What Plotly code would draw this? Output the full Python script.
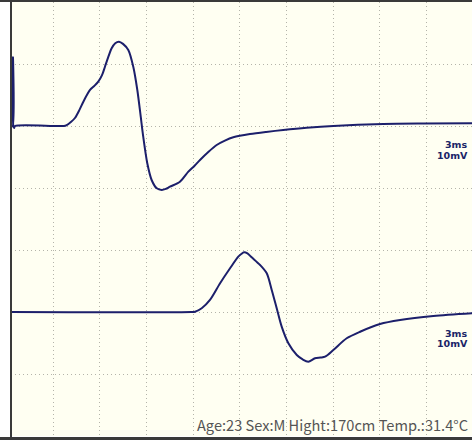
import plotly.graph_objects as go

# Time axis in ms, amplitude in mV (relative to each trace's own baseline)
upper_t = [0.0, 0.10, 0.13, 0.15, 0.20, 0.26, 3.40, 3.58, 3.85, 4.11, 4.40, 4.65, 5.08, 5.35,
           5.61, 5.85, 6.04, 6.25, 6.47, 6.70, 6.94, 7.20, 7.54, 7.86, 8.12, 8.34, 8.50,
           8.76, 9.04, 9.37, 9.69, 9.95, 10.22, 10.86, 11.40, 11.80, 12.15, 12.70, 13.22,
           13.75, 14.29, 15.36, 16.40, 17.50, 19.00, 20.72, 23.93, 26.50, 29.64]
upper_mv = [0.0, 0.0, 11.1, 0.0, -0.32, 0.0, 0.0, 0.15, 0.65, 1.29, 2.60, 3.92, 5.81, 6.45,
            7.15, 8.20, 9.56, 11.10, 12.53, 13.35, 13.60, 13.25, 12.26, 9.56, 5.81, 1.50, -1.73,
            -6.02, -8.71, -10.05, -10.32, -10.15, -9.79, -8.98, -7.37, -6.40, -5.48, -4.15, -3.06,
            -2.35, -1.82, -1.29, -0.95, -0.65, -0.30, 0.0, 0.32, 0.40, 0.44]

lower_t = [0.0, 11.60, 11.83, 12.26, 12.79, 13.44, 14.08, 14.61, 14.80, 14.98, 15.20, 15.47,
           16.01, 16.44, 16.76, 17.08, 17.40, 17.83, 18.37, 18.75, 19.11, 19.54, 19.90,
           20.19, 20.72, 21.58, 22.44, 23.72, 25.01, 27.15, 29.64]
lower_mv = [0.0, 0.0, 0.05, 0.60, 1.94, 4.63, 7.05, 8.92, 9.35, 9.63, 9.45, 8.82,
            7.58, 6.24, 3.55, 0.60, -2.37, -5.05, -6.94, -7.65, -8.02, -7.47, -7.35,
            -7.21, -6.13, -4.24, -3.18, -1.94, -1.29, -0.65, -0.21]

# Vertical placement of each trace on the 10 mV/div screen
upper_offset = 50
lower_offset = 20

scale_labels = ["3ms", "10mV"]
info_text = "Age:23 Sex:M Hight:170cm Temp.:31.4°C"

trace_color = "#1c1f6b"

fig = go.Figure()
for t, mv, off in [(upper_t, upper_mv, upper_offset), (lower_t, lower_mv, lower_offset)]:
    fig.add_trace(go.Scatter(
        x=t, y=[v + off for v in mv], mode="lines",
        line=dict(color=trace_color, width=2, shape="spline", smoothing=0.8),
        hoverinfo="skip", showlegend=False,
    ))

ms_per_px = 3 / 46.67
x_end = 461 * ms_per_px

grid = dict(showgrid=True, gridcolor="#b4b4aa", gridwidth=1, griddash="1px,3px",
            zeroline=False, showticklabels=False, ticks="", showline=False)

fig.update_layout(
    width=472, height=440,
    margin=dict(l=11, r=0, t=2, b=4),
    paper_bgcolor="#ffffff",
    plot_bgcolor="#fffff2",
    xaxis=dict(range=[0, x_end], tick0=42.3 * ms_per_px, dtick=3, **grid),
    yaxis=dict(range=[0, 70], tick0=0, dtick=10, **grid),
)

# Frame: top, left and bottom edges
frame_color = "#3a3a3a"
fig.add_shape(type="line", xref="paper", yref="paper", x0=-0.05, x1=1.05,
              y0=1 + 1 / 434, y1=1 + 1 / 434, line=dict(color=frame_color, width=2))
fig.add_shape(type="line", xref="paper", yref="paper", x0=-0.05, x1=1.05,
              y0=-2.5 / 434, y1=-2.5 / 434, line=dict(color=frame_color, width=3))
fig.add_shape(type="line", xref="paper", yref="paper", x0=0.0, x1=0.0,
              y0=-0.02, y1=1.02, line=dict(color=frame_color, width=2))

# Sweep / gain labels beside each trace
label_font = dict(family="DejaVu Sans", size=9.5, color="#1a2466")
for y_ms, y_mv in [(46.94, 45.32), (16.61, 14.84)]:
    for label, yv in zip(scale_labels, (y_ms, y_mv)):
        fig.add_annotation(x=(470 - 11) / 461, y=yv, text="<b>" + label + "</b>",
                           xref="paper", yref="y", xanchor="right", yanchor="middle",
                           showarrow=False, font=label_font)

fig.add_annotation(x=(470 - 11) / 461, y=(436 - 424) / 434, xref="paper", yref="paper",
                   text=info_text, xanchor="right", yanchor="middle", showarrow=False,
                   font=dict(family="Noto Sans CJK JP", size=14.6, color="#555555"))

fig.write_html("out.html")
